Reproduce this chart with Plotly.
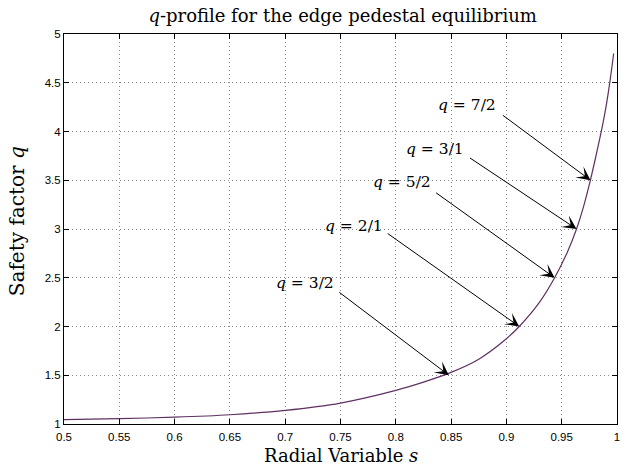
import plotly.graph_objects as go

# Data
s_vals = [0.5, 0.55, 0.6, 0.65, 0.7, 0.75, 0.8, 0.825, 0.85, 0.875, 0.9, 0.9116, 0.93,
          0.9436, 0.955, 0.9634, 0.97, 0.9755, 0.98, 0.9835, 0.9865, 0.99, 0.9937, 0.997]
q_vals = [1.045, 1.055, 1.07, 1.095, 1.14, 1.215, 1.345, 1.43, 1.53, 1.665, 1.875, 2.0, 2.25,
          2.5, 2.76, 3.0, 3.24, 3.48, 3.70, 3.88, 4.04, 4.25, 4.52, 4.80]

# rational surfaces marked by arrows
rat_labels = ["3/2", "2/1", "5/2", "3/1", "7/2"]
rat_q = [1.5, 2.0, 2.5, 3.0, 3.5]
rat_s = [0.848, 0.9116, 0.9436, 0.9634, 0.976]

x_ticks = [0.5, 0.55, 0.6, 0.65, 0.7, 0.75, 0.8, 0.85, 0.9, 0.95, 1.0]
x_ticktext = ["0.5", "0.55", "0.6", "0.65", "0.7", "0.75", "0.8", "0.85", "0.9", "0.95", "1"]
y_ticks = [1, 1.5, 2, 2.5, 3, 3.5, 4, 4.5, 5]
y_ticktext = ["1", "1.5", "2", "2.5", "3", "3.5", "4", "4.5", "5"]

# layout offsets (pixels) for arrow tails and labels
arrow_off = [(-111, -84), (-133, -94), (-120, -86), (-108, -72), (-89, -66)]
label_shift = [(-144, 92), (-165, 101), (-153, 96), (-142, 80), (-123, 75)]

SERIF = "DejaVu Serif"
SANS = "Liberation Sans"

fig = go.Figure()
fig.add_trace(go.Scatter(x=s_vals, y=q_vals, mode="lines",
                         line=dict(color="#5e3060", width=1.2, shape="spline", smoothing=0.8),
                         showlegend=False, hoverinfo="skip"))

annotations = []
for lab, qv, sv, (ax, ay), (xs, ys) in zip(rat_labels, rat_q, rat_s, arrow_off, label_shift):
    annotations.append(dict(x=sv, y=qv, xref="x", yref="y", text="", showarrow=True,
                            ax=ax, ay=ay, arrowhead=3, arrowsize=2.3, arrowwidth=1,
                            arrowcolor="black", standoff=0, startstandoff=0))
    annotations.append(dict(x=sv, y=qv, xref="x", yref="y",
                            text="<i>q</i> = " + lab, showarrow=False,
                            xshift=xs, yshift=ys,
                            font=dict(family=SERIF, size=15.5, color="black")))

# axis titles
annotations.append(dict(x=0.5, y=-0.0795, xref="paper", yref="paper",
                        text="Radial Variable <i>s</i>", showarrow=False,
                        xanchor="center", yanchor="middle",
                        font=dict(family=SERIF, size=18, color="black")))
annotations.append(dict(x=-0.085, y=0.52, xref="paper", yref="paper",
                        text="Safety factor <i>q</i>", showarrow=False, textangle=-90,
                        xanchor="center", yanchor="middle",
                        font=dict(family=SERIF, size=20, color="black")))

axis_common = dict(showline=True, linecolor="black", linewidth=1, mirror="ticks",
                   ticks="inside", ticklen=5, tickcolor="black", tickwidth=1,
                   showgrid=True, gridcolor="#888888", gridwidth=1, griddash="1px,3px",
                   zeroline=False,
                   tickfont=dict(family=SANS, size=11.5, color="black"))

fig.update_layout(
    width=631, height=465,
    margin=dict(l=64, r=11, t=34, b=41),
    paper_bgcolor="white", plot_bgcolor="white",
    title=dict(text="<i>q</i>-profile for the edge pedestal equilibrium",
               x=0.543, xanchor="center", y=1 - 16 / 465, yanchor="middle",
               yref="container", font=dict(family=SERIF, size=18, color="black")),
    xaxis=dict(range=[0.5, 1.0], tickvals=x_ticks, ticktext=x_ticktext,
               ticklabelstandoff=2, **axis_common),
    yaxis=dict(range=[1, 5], tickvals=y_ticks, ticktext=y_ticktext, **axis_common),
    annotations=annotations,
)

fig.write_html("out.html")
